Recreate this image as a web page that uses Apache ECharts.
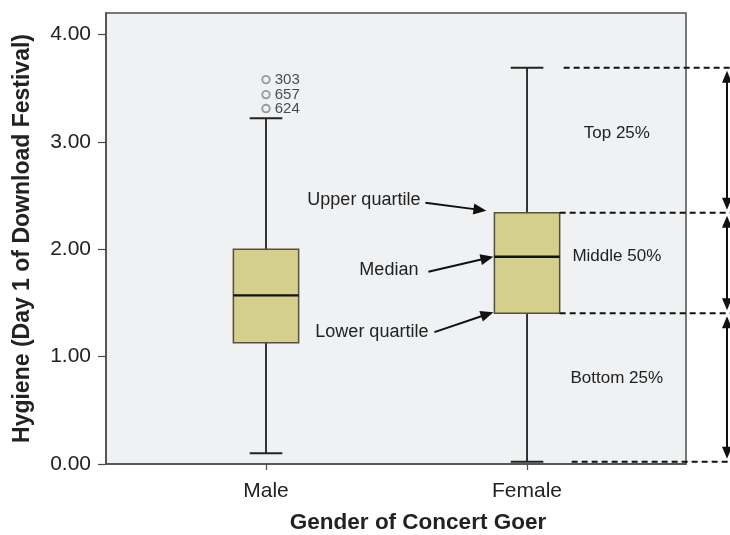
<!DOCTYPE html>
<html>
<head>
<meta charset="utf-8">
<script src="https://cdn.jsdelivr.net/npm/echarts@6/dist/echarts.min.js"></script>
<style>
  html, body { margin: 0; padding: 0; background: #ffffff; }
  #chart { width: 730px; height: 535px; }
</style>
</head>
<body>
<div id="chart"></div>
<script>
// Hygiene scores on day 1 of the Download Festival, split by gender
const categories = ['Male', 'Female'];
const categoryPos = [1, 2];
const whiskerLow = [0.10, 0.02];
const lowerQuartile = [1.13, 1.405];
const medians = [1.57, 1.93];
const upperQuartile = [2.00, 2.34];
const whiskerHigh = [3.22, 3.69];

// Male outliers and their case numbers
const outlierValues = [3.58, 3.44, 3.31];
const outlierIds = ['303', '657', '624'];

const yTicks = [0, 1, 2, 3, 4];

const FONT = '"Liberation Sans", Arial, Helvetica, sans-serif';
const BOX_HALF = 0.125;   // half box width, in x-axis units

const boxData = categoryPos.map((x, i) => [
  x, whiskerLow[i], lowerQuartile[i], medians[i], upperQuartile[i], whiskerHigh[i]
]);
const outlierData = outlierValues.map((v, i) => [categoryPos[0], v, outlierIds[i]]);

const chart = echarts.init(document.getElementById('chart'), null, { renderer: 'canvas' });

function renderBox(params, api) {
  const x = api.value(0);
  const lo = api.coord([x, api.value(1)]);
  const q1 = api.coord([x, api.value(2)]);
  const med = api.coord([x, api.value(3)]);
  const q3 = api.coord([x, api.value(4)]);
  const hi = api.coord([x, api.value(5)]);
  const half = api.size([BOX_HALF, 0])[0];
  const cap = half / 2;
  const whiskerStyle = { stroke: '#222222', lineWidth: 1.8 };
  return {
    type: 'group',
    children: [
      { type: 'line', shape: { x1: hi[0], y1: hi[1], x2: q3[0], y2: q3[1] }, style: whiskerStyle },
      { type: 'line', shape: { x1: q1[0], y1: q1[1], x2: lo[0], y2: lo[1] }, style: whiskerStyle },
      { type: 'line', shape: { x1: hi[0] - cap, y1: hi[1], x2: hi[0] + cap, y2: hi[1] }, style: { stroke: '#222222', lineWidth: 2 } },
      { type: 'line', shape: { x1: lo[0] - cap, y1: lo[1], x2: lo[0] + cap, y2: lo[1] }, style: { stroke: '#222222', lineWidth: 2 } },
      {
        type: 'rect',
        shape: { x: q3[0] - half, y: q3[1], width: half * 2, height: q1[1] - q3[1] },
        style: { fill: '#d5cf8d', stroke: '#55503c', lineWidth: 1.5 }
      },
      { type: 'line', shape: { x1: med[0] - half, y1: med[1], x2: med[0] + half, y2: med[1] }, style: { stroke: '#111111', lineWidth: 2.4 } }
    ]
  };
}

chart.setOption({
  animation: false,
  backgroundColor: '#ffffff',
  grid: {
    left: 106, right: 44, top: 13, bottom: 71,
    outerBoundsMode: 'none',
    containLabel: false,
    show: true,
    backgroundColor: '#eff1f3',
    borderColor: '#4d4d4d',
    borderWidth: 1.5
  },
  xAxis: {
    type: 'value',
    min: 0.387,
    max: 2.609,
    name: 'Gender of Concert Goer',
    nameLocation: 'middle',
    nameGap: 47,
    nameTextStyle: { fontFamily: FONT, fontSize: 22.5, fontWeight: 'bold', color: '#222', padding: [0, 0, 0, 44] },
    axisLine: { show: true, lineStyle: { color: '#4d4d4d', width: 1.5 } },
    axisTick: { show: true, customValues: categoryPos, length: 6, lineStyle: { color: '#4d4d4d', width: 1.2 } },
    axisLabel: {
      customValues: categoryPos,
      formatter: v => categories[categoryPos.indexOf(v)] || '',
      fontFamily: FONT, fontSize: 21, color: '#222', margin: 17
    },
    splitLine: { show: false }
  },
  yAxis: {
    type: 'value',
    min: 0,
    max: 4.2,
    name: 'Hygiene (Day 1 of Download Festival)',
    nameLocation: 'middle',
    nameGap: 72,
    nameTextStyle: { fontFamily: FONT, fontSize: 23, fontWeight: 'bold', color: '#222' },
    axisLine: { show: true, lineStyle: { color: '#4d4d4d', width: 1.5 } },
    axisTick: { show: true, customValues: yTicks, length: 8, lineStyle: { color: '#4d4d4d', width: 1.2 } },
    axisLabel: {
      customValues: yTicks,
      formatter: v => v.toFixed(2),
      fontFamily: FONT, fontSize: 21, color: '#222', margin: 15
    },
    splitLine: { show: false }
  },
  series: [
    {
      type: 'custom',
      renderItem: renderBox,
      encode: { x: 0, y: [1, 2, 3, 4, 5] },
      data: boxData,
      z: 3
    },
    {
      type: 'scatter',
      data: outlierData,
      symbol: 'circle',
      symbolSize: 7.5,
      itemStyle: { color: '#eff1f3', borderColor: '#858585', borderWidth: 1.9 },
      label: {
        show: true,
        position: 'right',
        distance: 4,
        formatter: p => p.data[2],
        fontFamily: FONT, fontSize: 15, color: '#222'
      },
      z: 4
    }
  ]
});

// Annotations around the Female box: callout arrows, quartile guide lines and range arrows
const px = (x, y) => chart.convertToPixel({ gridIndex: 0 }, [x, y]);
const fi = 1;
const fx = categoryPos[fi];
const fLeft = px(fx - BOX_HALF, 0)[0];
const fRight = px(fx + BOX_HALF, 0)[0];
const plotRight = px(2.609, 0)[0];
const yHi = px(fx, whiskerHigh[fi])[1];
const yQ3 = px(fx, upperQuartile[fi])[1];
const yMed = px(fx, medians[fi])[1];
const yQ1 = px(fx, lowerQuartile[fi])[1];
const yLo = px(fx, whiskerLow[fi])[1];

function head(x, y, angle, len, hw) {
  const c = Math.cos(angle), s = Math.sin(angle);
  const bx = x - c * len, by = y - s * len;
  return {
    type: 'polygon',
    shape: { points: [[x, y], [bx - s * hw, by + c * hw], [bx + s * hw, by - c * hw]] },
    style: { fill: '#111' }
  };
}

function pointer(x1, y1, x2, y2) {
  const a = Math.atan2(y2 - y1, x2 - x1);
  const len = 13;
  return [
    { type: 'line', shape: { x1: x1, y1: y1, x2: x2 - Math.cos(a) * len * 0.8, y2: y2 - Math.sin(a) * len * 0.8 }, style: { stroke: '#111', lineWidth: 2 } },
    head(x2, y2, a, len, 5.5)
  ];
}

function doubleArrow(x, y1, y2) {
  const len = 12;
  return [
    { type: 'line', shape: { x1: x, y1: y1 + len * 0.8, x2: x, y2: y2 - len * 0.8 }, style: { stroke: '#111', lineWidth: 2 } },
    head(x, y1, -Math.PI / 2, len, 5),
    head(x, y2, Math.PI / 2, len, 5)
  ];
}

function dashed(x1, y) {
  return { type: 'line', shape: { x1: x1, y1: y, x2: 730, y2: y }, style: { stroke: '#111', lineWidth: 2, lineDash: [6, 4] } };
}

function label(text, x, y, align, size) {
  return {
    type: 'text', x: x, y: y,
    style: { text: text, fontFamily: FONT, fontSize: size, fill: '#222', align: align, verticalAlign: 'middle' }
  };
}

const elements = [];

// callouts
const upStart = [fLeft - 69, yQ3 - 10];
elements.push(...pointer(upStart[0], upStart[1], fLeft - 8, yQ3 - 2));
elements.push(label('Upper quartile', upStart[0] - 5, yQ3 - 13, 'right', 18));

const medStart = [fLeft - 66, yMed + 15];
elements.push(...pointer(medStart[0], medStart[1], fLeft - 1, yMed));
elements.push(label('Median', medStart[0] - 10, yMed + 13, 'right', 18));

const lowStart = [fLeft - 60, yQ1 + 19];
elements.push(...pointer(lowStart[0], lowStart[1], fLeft - 1, yQ1 - 1));
elements.push(label('Lower quartile', lowStart[0] - 6, yQ1 + 19, 'right', 18));

// guide lines
elements.push(dashed(fRight + 4, yHi));
elements.push(dashed(fRight, yQ3));
elements.push(dashed(fRight, yQ1));
elements.push(dashed(fRight + 12, yLo));

// range arrows
const ax = 727;
elements.push(...doubleArrow(ax, yHi + 3, yQ3 - 3));
elements.push(...doubleArrow(ax, yQ3 + 3, yQ1 - 3));
elements.push(...doubleArrow(ax, yQ1 + 3, yLo - 3));

// range labels
const lx = (fRight + plotRight) / 2 - 6;
elements.push(label('Top 25%', lx, yHi + (yQ3 - yHi) * 0.45, 'center', 17));
elements.push(label('Middle 50%', lx, yMed, 'center', 17));
elements.push(label('Bottom 25%', lx, yQ1 + (yLo - yQ1) * 0.44, 'center', 17));

chart.setOption({ graphic: { elements: elements.map(e => Object.assign({ z: 100 }, e)) } });
</script>
</body>
</html>
